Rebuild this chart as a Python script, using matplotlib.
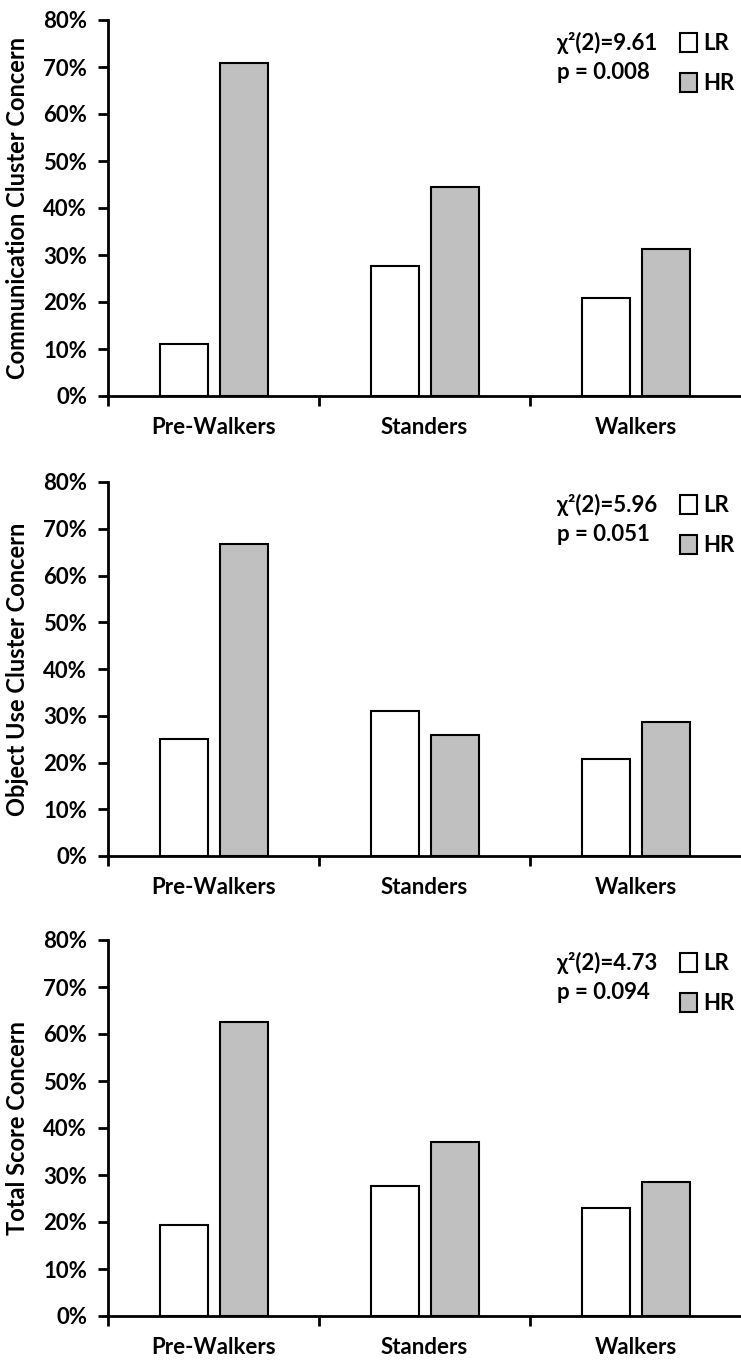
import numpy as np
import matplotlib
matplotlib.use('Agg')
import matplotlib.pyplot as plt
import matplotlib.patches as mpatches
from matplotlib.ticker import FuncFormatter

plt.rcParams['font.family'] = ['Lato', 'DejaVu Sans']
plt.rcParams['font.weight'] = 'bold'

groups = ['Pre-Walkers', 'Standers', 'Walkers']
ylabels = ['Communication Cluster Concern', 'Object Use Cluster Concern', 'Total Score Concern']
lr_vals = [[11.1, 27.6, 20.8],
           [25.0, 31.0, 20.8],
           [19.4, 27.6, 22.9]]
hr_vals = [[70.8, 44.4, 31.3],
           [66.7, 25.9, 28.6],
           [62.5, 37.0, 28.6]]
chi_text = ['χ²(2)=9.61\np = 0.008', 'χ²(2)=5.96\np = 0.051', 'χ²(2)=4.73\np = 0.094']

W, H = 741, 1361
fig = plt.figure(figsize=(W / 100, H / 100), dpi=100)

# pixel boxes of each panel (top, bottom)
boxes = [(20, 396), (482, 856), (940, 1316)]
left, right = 108, 741

x = np.arange(len(groups))
bw = 0.225

for i, (top, bot) in enumerate(boxes):
    ax = fig.add_axes([left / W, 1 - bot / H, (right - left) / W, (bot - top) / H])
    ax.bar(x - 0.14, lr_vals[i], bw, color='white', edgecolor='black', linewidth=1.5, zorder=3)
    ax.bar(x + 0.145, hr_vals[i], bw, color='#c0c0c0', edgecolor='black', linewidth=1.5, zorder=3)
    ax.set_xlim(-0.5, 2.5)
    ax.set_ylim(0, 80)
    ax.set_yticks(np.arange(0, 81, 10))
    ax.yaxis.set_major_formatter(FuncFormatter(lambda v, p: '%d%%' % v))
    ax.set_xticks(x)
    ax.set_xticklabels(groups)
    ax.set_xticks([-0.5, 0.5, 1.5], minor=True)
    ax.tick_params(axis='x', which='major', length=0, pad=15, labelsize=16)
    ax.tick_params(axis='x', which='minor', length=7, width=2, direction='out')
    ax.tick_params(axis='y', length=7, width=2, direction='out', labelsize=16, pad=8)
    for s in ['top', 'right']:
        ax.spines[s].set_visible(False)
    for s in ['left', 'bottom']:
        ax.spines[s].set_linewidth(2)
    ax.set_ylabel(ylabels[i], fontsize=17, fontweight='bold')
    ax.yaxis.set_label_coords(-0.125, 0.5)
    ax.text(0.709, 0.968, chi_text[i], transform=ax.transAxes, fontsize=16,
            fontweight='bold', va='top', ha='left', linespacing=1.45)
    handles = [mpatches.Patch(facecolor='white', edgecolor='black', linewidth=1.5, label='LR'),
               mpatches.Patch(facecolor='#c0c0c0', edgecolor='black', linewidth=1.5, label='HR')]
    ax.legend(handles=handles, loc='upper left', bbox_to_anchor=(0.904, 0.965), frameon=False,
              borderaxespad=0, borderpad=0,
              handlelength=0.75, handleheight=0.9, handletextpad=0.3, labelspacing=0.85,
              prop={'size': 16, 'weight': 'bold'})

fig.savefig('out.png', dpi=100)
